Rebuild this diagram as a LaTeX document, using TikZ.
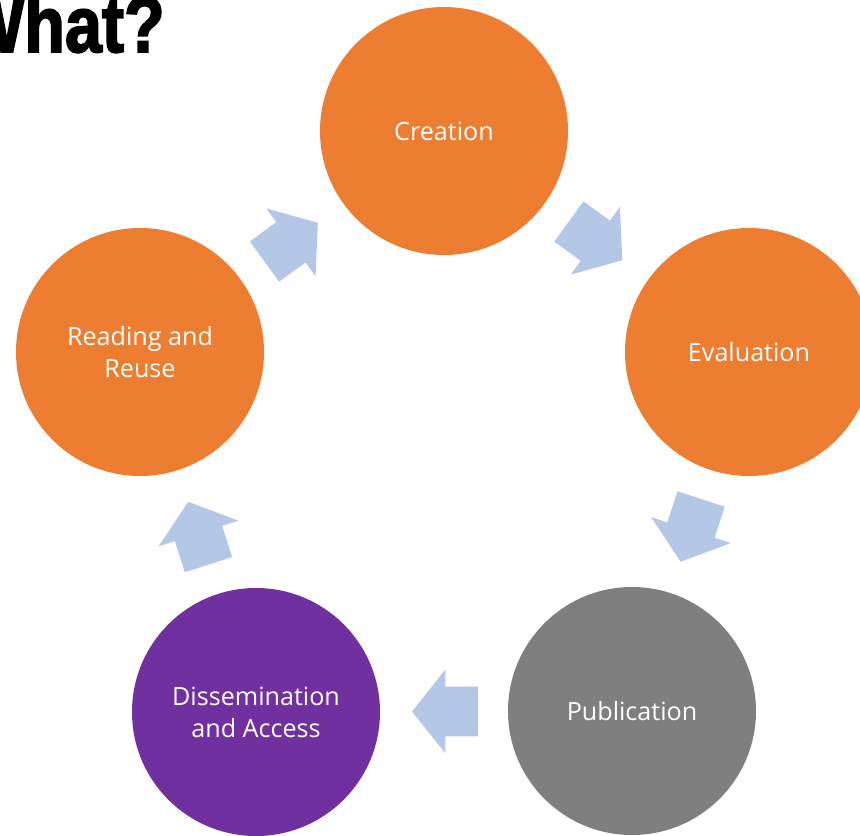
\documentclass[tikz,border=0pt]{standalone}
\usepackage{fontspec}
\setmainfont{Open Sans}
\newfontfamily\titlefont{Liberation Sans Bold}[FakeBold=2.5]
\usetikzlibrary{shapes.arrows}
\definecolor{stageorange}{HTML}{ED7D31}
\definecolor{stagegray}{HTML}{7F7F7F}
\definecolor{stagepurple}{HTML}{7030A0}
\definecolor{flowblue}{HTML}{B4C7E7}

\begin{document}
\begin{tikzpicture}[
    stage/.style={circle, minimum size=4.96cm, inner sep=0pt, text=white,
        align=center, font=\fontsize{14.3}{18.2}\selectfont},
    flow/.style={single arrow, fill=flowblue, draw=none,
        inner xsep=0pt, inner ysep=0.49cm, minimum height=1.32cm,
        single arrow head extend=0.34cm, single arrow tip angle=103,
        pos=0.414, sloped, allow upside down}]

        \useasboundingbox (0, 0) rectangle (17.2, -16.7);

        \coordinate(C) at (8.88, -2.62);
        \coordinate(E) at (14.98, -7.04);
        \coordinate(P) at (12.64, -14.22);
        \coordinate(D) at (5.12, -14.24);
        \coordinate(R) at (2.80, -7.04);

        \node[anchor=base east, inner sep=0pt,
            font=\titlefont\bfseries\fontsize{45}{52}\selectfont]
            (title) at (3.30, -1.04) {\scalebox{0.84}[1]{What?}};

        \node[stage, fill=stageorange] (creation) at (C) {Creation};
        \node[stage, fill=stageorange] (evaluation) at (E) {Evaluation};
        \node[stage, fill=stagegray] (publication) at (P) {Publication};
        \node[stage, fill=stagepurple] (dissemination) at (D) {Dissemination\\and Access};
        \node[stage, fill=stageorange] (reading) at (R) {Reading and\\Reuse};

        \path (creation) -- (evaluation) node[flow] (f1) {};
        \path (evaluation) -- (publication) node[flow] (f2) {};
        \path (publication) -- (dissemination) node[flow] (f3) {};
        \path (dissemination) -- (reading) node[flow] (f4) {};
        \path (reading) -- (creation) node[flow] (f5) {};

    \end{tikzpicture}
\end{document}
